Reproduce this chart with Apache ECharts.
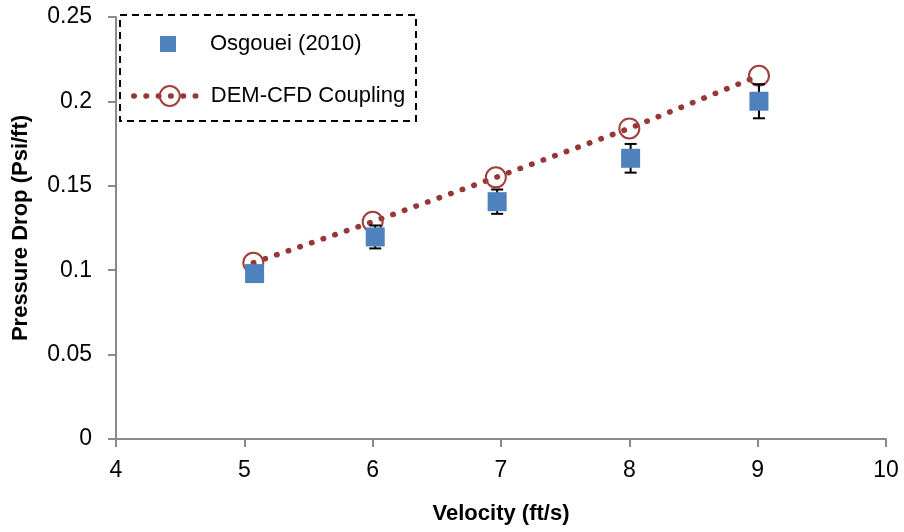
<!DOCTYPE html>
<html><head><meta charset="utf-8">
<script src="https://cdn.jsdelivr.net/npm/echarts@6/dist/echarts.min.js"></script>
<style>html,body{margin:0;padding:0;background:#fff}#c{width:904px;height:532px}</style>
</head><body><div id="c"></div>
<script>
const velocityExp = [5.08, 6.02, 6.97, 8.01, 9.01];
const pressureExp = [0.098, 0.1197, 0.1406, 0.1663, 0.2001];
const errorExp = [0.004, 0.0068, 0.0072, 0.0085, 0.0101];
const velocitySim = [5.07, 6.0, 6.96, 8.0, 9.01];
const pressureSim = [0.1044, 0.1287, 0.155, 0.184, 0.2152];
const nameExp = 'Osgouei (2010)';
const nameSim = 'DEM-CFD Coupling';

const FONT = "'Liberation Sans', Arial, sans-serif";
const expData = velocityExp.map((v, i) => [v, pressureExp[i]]);
const errData = velocityExp.map((v, i) => [v, pressureExp[i], errorExp[i]]);
const simData = velocitySim.map((v, i) => [v, pressureSim[i]]);

const dotLine = { color: '#953735', width: 5.5, type: [0.5, 11.8], cap: 'round' };

const axisCommon = {
  axisLine: { show: true, lineStyle: { color: '#8a8a8a', width: 2 } },
  axisTick: { show: true, inside: false, length: 8, lineStyle: { color: '#8a8a8a', width: 2 } },
  splitLine: { show: false },
  axisLabel: { color: '#000', fontFamily: FONT, fontSize: 23 },
  nameTextStyle: { color: '#000', fontFamily: FONT, fontSize: 22, fontWeight: 'bold' },
  nameLocation: 'middle'
};

const chart = echarts.init(document.getElementById('c'), null, { renderer: 'canvas' });
chart.setOption({
  animation: false,
  backgroundColor: '#fff',
  grid: { left: 116, right: 18, top: 17, bottom: 93, containLabel: false },
  xAxis: Object.assign({}, axisCommon, {
    type: 'value', min: 4, max: 10, interval: 1,
    name: 'Velocity (ft/s)', nameGap: 64,
    axisLabel: Object.assign({}, axisCommon.axisLabel, { margin: 20 })
  }),
  yAxis: Object.assign({}, axisCommon, {
    type: 'value', min: 0, max: 0.25, interval: 0.05,
    name: 'Pressure Drop (Psi/ft)', nameGap: 84, nameRotate: 90,
    axisLabel: Object.assign({}, axisCommon.axisLabel, { margin: 24 })
  }),
  graphic: [{
    type: 'rect', silent: true, z: 50,
    shape: { x: 120, y: 15, width: 296, height: 106 },
    style: { fill: 'none', stroke: '#000', lineWidth: 2, lineDash: [7, 5] }
  }],
  legend: [{
    data: [nameExp], orient: 'vertical', left: 160, top: 33, padding: 0,
    itemWidth: 16, itemHeight: 16, selectedMode: false,
    itemStyle: { opacity: 1 },
    textStyle: { color: '#000', fontFamily: FONT, fontSize: 22, padding: [0, 0, 0, 29] }
  }, {
    data: [nameSim], orient: 'vertical', left: 131, top: 85, padding: 0,
    itemWidth: 72, itemHeight: 25, selectedMode: false,
    lineStyle: dotLine,
    textStyle: { color: '#000', fontFamily: FONT, fontSize: 22 }
  }],
  series: [{
    name: nameSim, type: 'line', data: simData, z: 2,
    symbol: 'circle', symbolSize: 20, silent: true,
    itemStyle: { color: 'rgba(0,0,0,0)', borderColor: '#A0403C', borderWidth: 2 },
    lineStyle: dotLine
  }, {
    name: 'err', type: 'custom', data: errData, z: 3, silent: true,
    encode: { x: 0, y: 1 },
    renderItem: function (params, api) {
      const x = api.value(0), y = api.value(1), e = api.value(2);
      const t = api.coord([x, y + e]), b = api.coord([x, y - e]);
      const cw = 6, st = { stroke: '#000', lineWidth: 2 };
      return { type: 'group', children: [
        { type: 'line', shape: { x1: t[0], y1: t[1], x2: b[0], y2: b[1] }, style: st },
        { type: 'line', shape: { x1: t[0] - cw, y1: t[1], x2: t[0] + cw, y2: t[1] }, style: st },
        { type: 'line', shape: { x1: b[0] - cw, y1: b[1], x2: b[0] + cw, y2: b[1] }, style: st }
      ]};
    }
  }, {
    name: nameExp, type: 'scatter', data: expData, z: 4, silent: true,
    symbol: 'rect', symbolSize: 19,
    itemStyle: { color: '#4F81BD', opacity: 1 }
  }]
});
</script></body></html>
